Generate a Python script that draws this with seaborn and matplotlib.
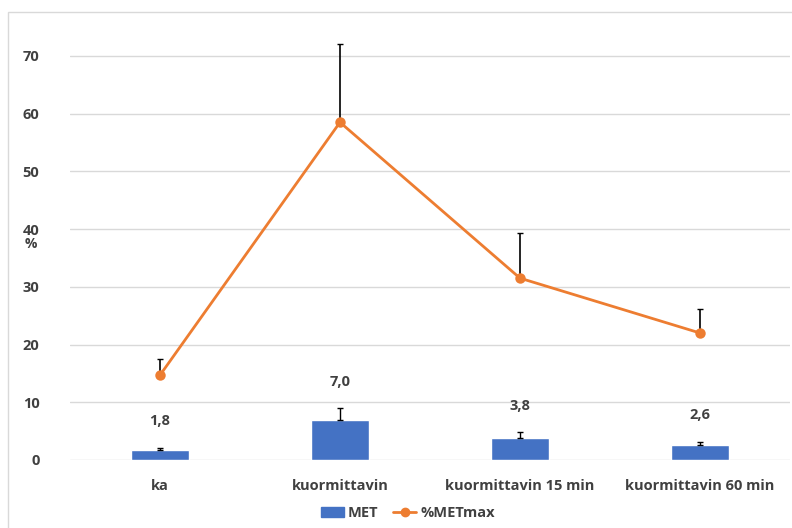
import numpy as np
import pandas as pd
import matplotlib.pyplot as plt
from matplotlib.patches import Rectangle, Patch
from matplotlib.lines import Line2D
import seaborn as sns

# data
categories = ["ka", "kuormittavin", "kuormittavin 15 min", "kuormittavin 60 min"]
met = [1.8, 7.0, 3.8, 2.6]
met_err = [0.3, 2.0, 1.0, 0.6]
pct_metmax = [14.7, 58.5, 31.5, 22.0]
pct_err = [2.8, 13.5, 7.9, 4.2]
met_labels = ["1,8", "7,0", "3,8", "2,6"]

BLUE = "#4472C4"
ORANGE = "#ED7D31"
TXT = "#404040"

sns.set_style("white")
plt.rcParams['font.family'] = ['Open Sans', 'DejaVu Sans']

df = pd.DataFrame({"cat": categories, "MET": met, "pct": pct_metmax})

fig = plt.figure(figsize=(7.92, 5.28), dpi=100)
ax = fig.add_axes([0.0884, 0.1288, 0.909, 0.820])

# outer chart frame
fig.patches.append(Rectangle((0.010, -0.01), 1.2, 0.987, transform=fig.transFigure,
                             fill=False, edgecolor="#D9D9D9", linewidth=1.0, zorder=0))

sns.barplot(data=df, x="cat", y="MET", color=BLUE, saturation=1, width=0.32,
            errorbar=None, ax=ax, zorder=3)
xs = np.arange(len(categories))
ax.errorbar(xs, met, yerr=[np.zeros(len(met)), met_err], fmt="none",
            ecolor="black", elinewidth=1.0, capsize=2, capthick=1.0, zorder=4)

ax.errorbar(xs, pct_metmax, yerr=[np.zeros(len(pct_metmax)), pct_err], fmt="none",
            ecolor="black", elinewidth=1.2, capsize=2, capthick=1.0, zorder=4)
sns.pointplot(data=df, x="cat", y="pct", color=ORANGE, markers="o", linewidth=2,
              markersize=6, errorbar=None, ax=ax, zorder=5)

for x, v, e, lab in zip(xs, met, met_err, met_labels):
    ax.annotate(lab, (x, v + e), xytext=(0, 19), textcoords="offset points",
                ha="center", va="center", fontsize=10.5, fontweight="bold", color=TXT)

ax.set_xlim(-0.5, 3.5)
ax.set_ylim(0, 75)
ax.set_yticks(range(0, 71, 10))
ax.yaxis.grid(True, color="#D9D9D9", linewidth=1.0, zorder=0)
ax.set_axisbelow(True)
for s in ax.spines.values():
    s.set_visible(False)
ax.tick_params(axis="both", length=0, labelsize=10.5, labelcolor=TXT)
ax.tick_params(axis="x", pad=14)
ax.tick_params(axis="y", pad=22)
for t in ax.get_xticklabels() + ax.get_yticklabels():
    t.set_fontweight("bold")
ax.set_xlabel("")
ax.set_ylabel("%", rotation=0, fontsize=10, fontweight="bold", color=TXT,
              va="center", ha="center")
ax.yaxis.set_label_coords(-0.055, 0.50)

handles = [Patch(facecolor=BLUE, edgecolor=BLUE),
           Line2D([0], [0], color=ORANGE, linewidth=2, marker="o", markersize=6)]
leg = fig.legend(handles, ["MET", "%METmax"], loc="center", bbox_to_anchor=(0.515, 0.028),
                 ncol=2, frameon=False, handlelength=1.6, columnspacing=1.0,
                 handletextpad=0.25, prop={"weight": "bold", "size": 10.5})
for t in leg.get_texts():
    t.set_color(TXT)

fig.savefig("out.png", dpi=100)
